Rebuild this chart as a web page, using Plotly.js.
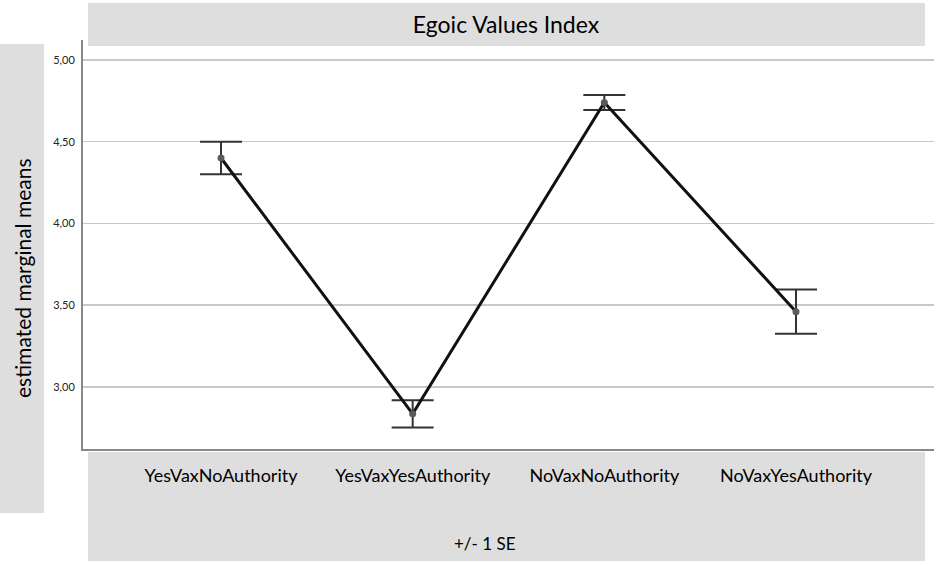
<!DOCTYPE html>
<html>
<head>
<meta charset="utf-8">
<script src="https://cdn.plot.ly/plotly-3.0.1.min.js"></script>
<style>html,body{margin:0;padding:0;background:#fff;}#chart{width:945px;height:566px;}</style>
</head>
<body>
<div id="chart"></div>
<script>
// ---- data ----
const categories = ["YesVaxNoAuthority", "YesVaxYesAuthority", "NoVaxNoAuthority", "NoVaxYesAuthority"];
const means = [4.40, 2.835, 4.74, 3.46];
const stdErrors = [0.10, 0.083, 0.046, 0.135];
const yTickValues = [3.0, 3.5, 4.0, 4.5, 5.0];
const chartTitle = "Egoic Values Index";
const yAxisLabel = "estimated marginal means";
const errorNote = "+/- 1 SE";

// ---- layout helpers (pixel -> paper) ----
const W = 945, H = 566;
const M = {l: 83, r: 11, t: 40, b: 117};
const pw = W - M.l - M.r, ph = H - M.t - M.b;
const px = x => (x - M.l) / pw;
const py = y => (H - M.b - y) / ph;
const band = '#dedede';

const trace = {
  x: categories,
  y: means,
  type: 'scatter',
  mode: 'lines+markers',
  line: {color: '#111111', width: 3},
  marker: {color: '#5a5a5a', size: 7},
  error_y: {type: 'data', array: stdErrors, visible: true, color: '#333333', thickness: 2, width: 21},
  hoverinfo: 'x+y'
};

const layout = {
  width: W, height: H,
  margin: M,
  paper_bgcolor: '#ffffff',
  plot_bgcolor: '#ffffff',
  showlegend: false,
  separators: ',.',
  font: {family: 'Lato, "Open Sans", sans-serif', color: '#111111'},
  xaxis: {
    type: 'category',
    range: [-0.72, 3.72],
    showgrid: false,
    zeroline: false,
    showline: true,
    linecolor: '#888888',
    linewidth: 2,
    ticks: '',
    ticklabelstandoff: 9,
    tickfont: {size: 18, color: '#000000'},
    fixedrange: true
  },
  yaxis: {
    range: [2.62, 5.122],
    tickvals: yTickValues,
    tickformat: '.2f',
    showgrid: true,
    gridcolor: '#c8c8c8',
    gridwidth: 1.5,
    zeroline: false,
    showline: true,
    linecolor: '#888888',
    linewidth: 2,
    ticks: '',
    ticklabelstandoff: 4,
    tickfont: {size: 11, color: '#222222'},
    fixedrange: true
  },
  title: {
    text: chartTitle,
    font: {size: 23, color: '#000000'},
    x: px(506), xref: 'paper', xanchor: 'center',
    y: 1 - 25 / H, yref: 'container', yanchor: 'middle'
  },
  shapes: [
    {type: 'rect', xref: 'paper', yref: 'paper', x0: px(88), x1: px(925), y0: py(46), y1: py(3), fillcolor: band, line: {width: 0}, layer: 'below'},
    {type: 'rect', xref: 'paper', yref: 'paper', x0: px(88), x1: px(925), y0: py(561), y1: py(452), fillcolor: band, line: {width: 0}, layer: 'below'},
    {type: 'rect', xref: 'paper', yref: 'paper', x0: px(0), x1: px(44), y0: py(513), y1: py(44), fillcolor: band, line: {width: 0}, layer: 'below'}
  ],
  annotations: [
    {text: yAxisLabel, xref: 'paper', yref: 'paper', x: px(22), y: py(278), textangle: -90, showarrow: false, xanchor: 'center', yanchor: 'middle', font: {size: 21, color: '#000000'}},
    {text: errorNote, xref: 'paper', yref: 'paper', x: px(485), y: py(543), showarrow: false, xanchor: 'center', yanchor: 'middle', font: {size: 17, color: '#000000'}}
  ]
};

Plotly.newPlot('chart', [trace], layout, {displayModeBar: false, staticPlot: true});
</script>
</body>
</html>
